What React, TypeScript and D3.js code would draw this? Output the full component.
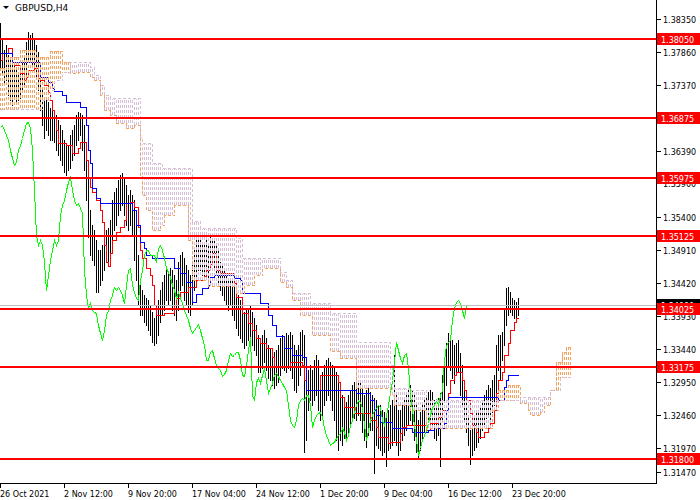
import React from "react";
import * as d3 from "d3";

// GBPUSD H4 bars, oldest first (one bar every 4 hours)
const closes = [
  1.3781, 1.3774, 1.3766, 1.3771, 1.3759, 1.3747, 1.3737, 1.3744, 1.3732, 1.3726,
  1.3737, 1.3751, 1.3759, 1.3777, 1.3792, 1.3796, 1.3789, 1.3781, 1.3774, 1.3751,
  1.3722, 1.3699, 1.3684, 1.3696, 1.3687, 1.3677, 1.3674, 1.3677, 1.367, 1.3662,
  1.3655, 1.364, 1.3628, 1.3617, 1.3622, 1.364, 1.3647, 1.3658, 1.367, 1.368,
  1.3681, 1.3673, 1.364, 1.358, 1.3513, 1.3498, 1.3506, 1.3498, 1.3473, 1.3431,
  1.3454, 1.3476, 1.3491, 1.3506, 1.3498, 1.3506, 1.3543, 1.3558, 1.3565, 1.358,
  1.3592, 1.36, 1.358, 1.3565, 1.3558, 1.3561, 1.3553, 1.3546, 1.3461, 1.3424,
  1.3406, 1.3412, 1.3402, 1.3399, 1.3397, 1.3379, 1.3367, 1.3357, 1.3372, 1.3394,
  1.3402, 1.3417, 1.3424, 1.3436, 1.3431, 1.3436, 1.3431, 1.3424, 1.3412, 1.3439,
  1.3461, 1.3464, 1.3439, 1.3429, 1.342, 1.3417, 1.3446, 1.3461, 1.3484, 1.3491,
  1.3491, 1.3484, 1.3484, 1.3484, 1.3473, 1.3494, 1.3498, 1.3491, 1.3479, 1.3464,
  1.3458, 1.3451, 1.3439, 1.3431, 1.342, 1.3429, 1.342, 1.3412, 1.3402, 1.3394,
  1.3387, 1.3375, 1.3367, 1.3372, 1.3376, 1.3381, 1.3372, 1.336, 1.335, 1.3327,
  1.3327, 1.3339, 1.3342, 1.333, 1.332, 1.3315, 1.3312, 1.3304, 1.3306, 1.3312,
  1.3327, 1.3338, 1.3333, 1.3335, 1.3339, 1.3339, 1.3327, 1.3305, 1.3304, 1.332,
  1.3342, 1.3362, 1.3275, 1.3268, 1.3295, 1.3301, 1.3293, 1.3305, 1.3315, 1.3298,
  1.3278, 1.3286, 1.3293, 1.3305, 1.3308, 1.3304, 1.3298, 1.3293, 1.3287, 1.3283,
  1.326, 1.3238, 1.3231, 1.3228, 1.3238, 1.326, 1.3268, 1.3271, 1.3268, 1.3275,
  1.3275, 1.326, 1.3228, 1.3238, 1.3245, 1.3248, 1.325, 1.3243, 1.3226, 1.3216,
  1.3208, 1.3201, 1.3204, 1.3205, 1.3211, 1.3216, 1.3219, 1.3226, 1.322, 1.3208,
  1.3216, 1.3231, 1.3238, 1.325, 1.326, 1.3268, 1.3265, 1.3256, 1.3231, 1.3208,
  1.3223, 1.3238, 1.3245, 1.3253, 1.3256, 1.326, 1.3257, 1.3238, 1.3231, 1.3245,
  1.326, 1.3278, 1.3298, 1.3324, 1.3354, 1.3342, 1.333, 1.3323, 1.3335, 1.3338,
  1.3315, 1.3275, 1.3253, 1.3231, 1.3208, 1.3186, 1.3196, 1.3208, 1.3216, 1.3223,
  1.3234, 1.3245, 1.3257, 1.326, 1.3268, 1.326, 1.3275, 1.3283, 1.3327, 1.335,
  1.3354, 1.3357, 1.3387, 1.3405, 1.3414, 1.3417, 1.3412, 1.3402, 1.339, 1.3409,
];

const highs = [
  1.3829, 1.3803, 1.3789, 1.3796, 1.3781, 1.3774, 1.3766, 1.3771, 1.3759, 1.3751,
  1.3762, 1.3774, 1.3781, 1.3801, 1.3815, 1.3811, 1.3814, 1.3806, 1.3796, 1.3786,
  1.3756, 1.3732, 1.3714, 1.3717, 1.3711, 1.3702, 1.3704, 1.3696, 1.3692, 1.3684,
  1.3677, 1.367, 1.3655, 1.3647, 1.3647, 1.3662, 1.367, 1.3677, 1.3692, 1.3696,
  1.3695, 1.3692, 1.3677, 1.3647, 1.36, 1.3551, 1.3528, 1.3521, 1.3506, 1.3491,
  1.3491, 1.3498, 1.3509, 1.3521, 1.3524, 1.3536, 1.3565, 1.3577, 1.3583, 1.3595,
  1.3603, 1.3606, 1.3598, 1.3588, 1.3573, 1.358, 1.3573, 1.3565, 1.3551, 1.3484,
  1.3439, 1.3431, 1.3424, 1.342, 1.3417, 1.3409, 1.3399, 1.339, 1.3402, 1.3417,
  1.3431, 1.3443, 1.3454, 1.3461, 1.3458, 1.3464, 1.3461, 1.3454, 1.3446, 1.3473,
  1.3484, 1.3488, 1.3479, 1.3469, 1.3461, 1.3454, 1.3473, 1.3491, 1.3506, 1.3509,
  1.3506, 1.3503, 1.3498, 1.3509, 1.3498, 1.3513, 1.3506, 1.3509, 1.3498, 1.3491,
  1.3473, 1.3469, 1.3461, 1.3454, 1.3446, 1.3449, 1.3446, 1.3439, 1.3431, 1.3424,
  1.3417, 1.3409, 1.3399, 1.3402, 1.3405, 1.3409, 1.3399, 1.339, 1.3379, 1.3365,
  1.3357, 1.3365, 1.3372, 1.336, 1.335, 1.3345, 1.3342, 1.3339, 1.3342, 1.335,
  1.336, 1.3365, 1.3362, 1.3367, 1.3365, 1.3369, 1.3365, 1.335, 1.3342, 1.335,
  1.3369, 1.3372, 1.3365, 1.3298, 1.3312, 1.332, 1.3312, 1.3327, 1.3335, 1.3327,
  1.3305, 1.3309, 1.332, 1.3327, 1.333, 1.3324, 1.332, 1.3315, 1.3309, 1.3305,
  1.329, 1.3275, 1.3268, 1.3265, 1.3275, 1.3283, 1.329, 1.3295, 1.329, 1.3298,
  1.3295, 1.329, 1.3275, 1.3283, 1.3286, 1.328, 1.3275, 1.3271, 1.3268, 1.326,
  1.326, 1.3253, 1.325, 1.3245, 1.3253, 1.326, 1.3268, 1.3335, 1.3275, 1.3253,
  1.3253, 1.326, 1.3268, 1.3275, 1.3283, 1.329, 1.3283, 1.3275, 1.326, 1.3238,
  1.325, 1.326, 1.3271, 1.3275, 1.328, 1.3283, 1.328, 1.3268, 1.326, 1.3271,
  1.3278, 1.3305, 1.3327, 1.3353, 1.3367, 1.336, 1.3357, 1.335, 1.3353, 1.3357,
  1.3338, 1.332, 1.3283, 1.3268, 1.3245, 1.3223, 1.3238, 1.3245, 1.325, 1.3253,
  1.3256, 1.3265, 1.3275, 1.3283, 1.329, 1.3286, 1.3298, 1.3305, 1.335, 1.3365,
  1.3365, 1.3369, 1.3405, 1.3434, 1.3436, 1.3429, 1.342, 1.3417, 1.3414, 1.342,
];

const lows = [
  1.3759, 1.3751, 1.3737, 1.3744, 1.3722, 1.3714, 1.3707, 1.3717, 1.3708, 1.3714,
  1.3717, 1.3726, 1.3737, 1.3751, 1.3771, 1.3774, 1.3765, 1.3759, 1.3747, 1.3729,
  1.3699, 1.3677, 1.3658, 1.367, 1.3662, 1.3655, 1.3655, 1.3652, 1.364, 1.3632,
  1.3625, 1.3617, 1.3607, 1.3603, 1.361, 1.3613, 1.3625, 1.3632, 1.3647, 1.3655,
  1.3662, 1.364, 1.361, 1.3565, 1.351, 1.3484, 1.3476, 1.3469, 1.3429, 1.3429,
  1.3439, 1.3446, 1.3461, 1.3473, 1.3473, 1.3484, 1.3498, 1.3521, 1.3528, 1.3543,
  1.3551, 1.3558, 1.3543, 1.3528, 1.3521, 1.3528, 1.3513, 1.3476, 1.3446, 1.3409,
  1.3394, 1.3394, 1.3384, 1.3379, 1.3372, 1.3365, 1.3354, 1.335, 1.3353, 1.3365,
  1.3384, 1.3394, 1.3402, 1.3417, 1.3409, 1.3417, 1.3402, 1.3394, 1.3387, 1.3402,
  1.3431, 1.3439, 1.3417, 1.3409, 1.3399, 1.3394, 1.3409, 1.3431, 1.3449, 1.3461,
  1.3461, 1.3454, 1.3454, 1.3458, 1.3446, 1.3461, 1.3469, 1.3464, 1.3454, 1.3439,
  1.3431, 1.3424, 1.3417, 1.3409, 1.3402, 1.3409, 1.3394, 1.3387, 1.3375, 1.3365,
  1.336, 1.3354, 1.3345, 1.335, 1.3357, 1.336, 1.335, 1.3342, 1.3335, 1.3309,
  1.3309, 1.3315, 1.3324, 1.3312, 1.3301, 1.3298, 1.329, 1.3286, 1.329, 1.3295,
  1.3305, 1.3315, 1.3312, 1.3309, 1.3315, 1.3312, 1.3301, 1.3283, 1.328, 1.329,
  1.3305, 1.3327, 1.319, 1.3208, 1.3253, 1.3268, 1.326, 1.3268, 1.3275, 1.3253,
  1.3238, 1.3245, 1.326, 1.3268, 1.3275, 1.3268, 1.3253, 1.3238, 1.3208, 1.3193,
  1.3208, 1.3201, 1.3211, 1.3208, 1.3216, 1.3231, 1.3238, 1.3241, 1.3238, 1.3245,
  1.3238, 1.322, 1.3208, 1.3198, 1.3216, 1.3223, 1.3223, 1.3159, 1.3201, 1.3196,
  1.3193, 1.3186, 1.319, 1.317, 1.3193, 1.3196, 1.3201, 1.3208, 1.3201, 1.3186,
  1.3193, 1.3208, 1.3216, 1.3223, 1.3231, 1.3238, 1.3231, 1.3208, 1.319, 1.3183,
  1.3193, 1.3208, 1.322, 1.3231, 1.3235, 1.3238, 1.3231, 1.3211, 1.3208, 1.3216,
  1.317, 1.3238, 1.3268, 1.329, 1.332, 1.3312, 1.3301, 1.3293, 1.3305, 1.3309,
  1.3275, 1.326, 1.3238, 1.322, 1.3201, 1.3173, 1.3186, 1.3193, 1.3198, 1.3205,
  1.3211, 1.3223, 1.3231, 1.3241, 1.3245, 1.3238, 1.325, 1.326, 1.3275, 1.3312,
  1.3298, 1.3327, 1.335, 1.3379, 1.3394, 1.3399, 1.3394, 1.339, 1.3384, 1.3394,
];

// Ichimoku lines: [bar index where the level starts, price]
const tenkanSteps: [number, number][] = [
  [0, 1.3774], [1, 1.3784], [4, 1.3792], [6, 1.3771], [7, 1.3766], [10, 1.3754],
  [12, 1.3744], [13, 1.3748], [14, 1.3759], [17, 1.3762], [19, 1.3747], [20, 1.3744],
  [22, 1.3737], [24, 1.3726], [25, 1.3714], [26, 1.3699], [27, 1.3687], [28, 1.367],
  [29, 1.365], [33, 1.3647], [36, 1.3635], [39, 1.3643], [40, 1.3652], [43, 1.3625],
  [44, 1.36], [45, 1.3585], [46, 1.3577], [48, 1.3565], [50, 1.3551], [51, 1.3533],
  [52, 1.3498], [53, 1.3473], [54, 1.3467], [55, 1.3486], [56, 1.3506], [58, 1.3518],
  [60, 1.3525], [62, 1.3536], [63, 1.3561], [65, 1.3562], [67, 1.3555], [69, 1.3525],
  [70, 1.3491], [71, 1.3479], [73, 1.3464], [75, 1.3454], [76, 1.3439], [77, 1.3409],
  [78, 1.3394], [82, 1.3397], [87, 1.3409], [88, 1.342], [90, 1.3429], [94, 1.3436],
  [98, 1.3446], [102, 1.3452], [103, 1.3461], [105, 1.347], [106, 1.3486], [108, 1.3461],
  [110, 1.3457], [117, 1.3442], [118, 1.3421], [121, 1.3397], [124, 1.3382], [126, 1.3372],
  [128, 1.336], [130, 1.3353], [133, 1.3345], [136, 1.3332], [137, 1.3318], [145, 1.3324],
  [151, 1.332], [152, 1.3298], [153, 1.3283], [160, 1.3305], [169, 1.3295], [170, 1.3272],
  [172, 1.3257], [177, 1.3248], [185, 1.3238], [188, 1.3228], [189, 1.3213], [194, 1.3204],
  [195, 1.3205], [200, 1.3219], [201, 1.3228], [203, 1.3231], [213, 1.3223], [215, 1.3234],
  [219, 1.3243], [221, 1.3253], [224, 1.3278], [225, 1.3298], [227, 1.3305], [228, 1.3309],
  [231, 1.3298], [232, 1.3283], [233, 1.3268], [235, 1.3248], [236, 1.3231], [238, 1.322],
  [239, 1.3213], [242, 1.322], [244, 1.3226], [245, 1.3234], [247, 1.3253], [248, 1.3278],
  [249, 1.3298], [251, 1.3309], [252, 1.3335], [254, 1.3353], [255, 1.3372], [257, 1.3384],
  [258, 1.339],
];

const kijunSteps: [number, number][] = [
  [0, 1.3784], [6, 1.3771], [20, 1.3748], [24, 1.3741], [26, 1.3732], [27, 1.3728],
  [31, 1.3722], [33, 1.3711], [40, 1.3704], [43, 1.3677], [44, 1.364], [45, 1.362],
  [46, 1.3583], [48, 1.3568], [50, 1.3561], [66, 1.3551], [68, 1.3528], [70, 1.3503],
  [72, 1.3494], [73, 1.3484], [76, 1.3479], [87, 1.3464], [90, 1.3457], [93, 1.3443],
  [96, 1.3414], [98, 1.3425], [101, 1.3434], [104, 1.3439], [105, 1.3451], [107, 1.3454],
  [117, 1.3449], [120, 1.3446], [121, 1.3427], [130, 1.3412], [134, 1.3394], [136, 1.3379],
  [138, 1.3363], [142, 1.3345], [146, 1.3335], [151, 1.3332], [153, 1.3283], [178, 1.3278],
  [185, 1.3268], [187, 1.3253], [188, 1.3245], [190, 1.3235], [196, 1.3226], [206, 1.322],
  [214, 1.3223], [217, 1.3226], [222, 1.3234], [223, 1.3253], [224, 1.3272], [249, 1.3268],
  [252, 1.3287], [253, 1.3298], [254, 1.3305],
];

const spanASteps: [number, number][] = [
  [0, 1.3762], [3, 1.3778], [10, 1.3789], [18, 1.3778], [25, 1.3787], [31, 1.3771],
  [35, 1.3754], [39, 1.3756], [45, 1.3748], [47, 1.3744], [50, 1.3722], [52, 1.3699],
  [55, 1.3692], [58, 1.368], [63, 1.3673], [67, 1.3677], [70, 1.3603], [71, 1.3573],
  [73, 1.3551], [76, 1.3521], [80, 1.3528], [82, 1.3543], [87, 1.3558], [94, 1.3506],
  [96, 1.3446], [104, 1.3437], [118, 1.3427], [122, 1.3439], [127, 1.3454], [131, 1.3464],
  [140, 1.3443], [143, 1.3436], [146, 1.3417], [150, 1.3394], [156, 1.3365], [165, 1.3341],
  [170, 1.333], [178, 1.3286], [195, 1.3275], [197, 1.326], [205, 1.3253], [213, 1.3226],
  [246, 1.3253], [249, 1.3283], [254, 1.329], [260, 1.3263], [264, 1.3253], [265, 1.3245],
  [270, 1.325], [272, 1.326], [275, 1.3283], [278, 1.3324], [281, 1.3339], [283, 1.3347],
];

const spanBSteps: [number, number][] = [
  [0, 1.3701], [21, 1.3714], [25, 1.3729], [27, 1.3744], [31, 1.3756], [35, 1.3771],
  [45, 1.3763], [47, 1.3751], [50, 1.3737], [52, 1.3722], [55, 1.3717], [70, 1.3659],
  [71, 1.365], [76, 1.362], [81, 1.3613], [96, 1.3534], [100, 1.3524], [118, 1.3509],
  [121, 1.3479], [140, 1.3458], [143, 1.3446], [146, 1.3427], [155, 1.3412], [165, 1.3397],
  [178, 1.3354], [195, 1.332], [197, 1.3286], [205, 1.3283], [213, 1.3268], [260, 1.3272],
  [275, 1.3283], [280, 1.3302],
];

const levelPrices = [1.3805, 1.36875, 1.35975, 1.35125, 1.34025, 1.33175, 1.318];
const priceTicks = [
  1.3835, 1.3786, 1.3737, 1.3688, 1.3639, 1.359, 1.354, 1.3491,
  1.3442, 1.3393, 1.3344, 1.3295, 1.3246, 1.3197, 1.3147,
];
const timeLabels = [
  "26 Oct 2021", "2 Nov 12:00", "9 Nov 20:00", "17 Nov 04:00", "24 Nov 12:00",
  "1 Dec 20:00", "9 Dec 04:00", "16 Dec 12:00", "23 Dec 20:00",
];
const timeLabelBars = [0, 32, 64, 96, 128, 160, 192, 224, 256];

const SHIFT = 26;
const PLOT_W = 656;
const PLOT_H = 483;
const FONT = "DejaVu Sans";

const fmt = (p: number) => p.toFixed(5);

export default function App() {
  const x = d3.scaleLinear().domain([0, 328]).range([0, PLOT_W]);
  const y = d3.scaleLinear().domain([1.3863, 1.314425]).range([0, PLOT_H]);
  const px = (i: number) => Math.round(x(i)) + 0.5;
  const py = (p: number) => Math.round(y(p)) + 0.5;

  const last = closes.length - 1;
  const cloudEnd = last + SHIFT;

  const stepPath = (steps: [number, number][], endBar: number) => {
    const pts: [number, number][] = [...steps, [endBar, steps[steps.length - 1][1]]];
    return (
      d3
        .line<[number, number]>()
        .x((d) => px(d[0]))
        .y((d) => py(d[1]))
        .curve(d3.curveStepAfter)(pts) || ""
    );
  };

  const valueAt = (steps: [number, number][], i: number) => {
    const k = d3.bisector((d: [number, number]) => d[0]).right(steps, i) - 1;
    return steps[Math.max(0, k)][1];
  };

  const cloudBars = d3.range(0, cloudEnd + 1).map((i) => {
    const a = valueAt(spanASteps, i);
    const b = valueAt(spanBSteps, i);
    return { i, a, b };
  });

  const chikou =
    d3
      .line<number>()
      .x((_, k) => px(k))
      .y((d) => py(d))(closes.slice(SHIFT)) || "";

  const bid = closes[last];

  // a tick label that sits fully under a level label is not drawn (as in the terminal)
  const hiddenTick = (p: number) =>
    levelPrices.some((l) => Math.abs(y(l) - y(p)) < 2);

  return (
    <svg
      width={700}
      height={500}
      style={{ position: "fixed", left: 0, top: 0, background: "#fff" }}
      fontFamily={FONT}
    >
      <rect x={0} y={0} width={700} height={500} fill="#ffffff" />
      <defs>
        <clipPath id="plot">
          <rect x={0} y={0} width={PLOT_W} height={PLOT_H} />
        </clipPath>
      </defs>

      <g clipPath="url(#plot)" shapeRendering="crispEdges">
        {/* price bars */}
        {closes.map((_, i) => {
          const top = Math.round(y(highs[i]));
          const bot = Math.round(y(lows[i]));
          return (
            <rect
              key={"b" + i}
              x={Math.round(x(i))}
              y={top}
              width={1}
              height={Math.max(1, bot - top + 1)}
              fill="#000000"
            />
          );
        })}

        {/* tenkan / kijun */}
        <path d={stepPath(tenkanSteps, last)} fill="none" stroke="#ff0000" strokeWidth={1} />
        <path d={stepPath(kijunSteps, last)} fill="none" stroke="#0000ff" strokeWidth={1} />

        {/* kumo hatch */}
        {cloudBars.map(({ i, a, b }) => (
          <line
            key={"k" + i}
            x1={px(i)}
            x2={px(i)}
            y1={Math.round(y(a))}
            y2={Math.round(y(b)) + 1}
            stroke={a >= b ? "#f4a460" : "#d8bfd8"}
            strokeWidth={1}
            strokeDasharray="3 2"
          />
        ))}

        {/* chikou */}
        <path d={chikou} fill="none" stroke="#00ff00" strokeWidth={1} />

        {/* senkou spans */}
        <path
          d={stepPath(spanASteps, cloudEnd)}
          fill="none"
          stroke="#f4a460"
          strokeWidth={1}
          strokeDasharray="3 2"
        />
        <path
          d={stepPath(spanBSteps, cloudEnd)}
          fill="none"
          stroke="#d8bfd8"
          strokeWidth={1}
          strokeDasharray="3 2"
        />

        {/* bid line */}
        <line x1={0} x2={PLOT_W} y1={py(bid)} y2={py(bid)} stroke="#c0c0c0" strokeWidth={1} />

        {/* horizontal levels */}
        {levelPrices.map((p) => (
          <line
            key={"l" + p}
            x1={0}
            x2={PLOT_W}
            y1={Math.round(y(p))}
            y2={Math.round(y(p))}
            stroke="#ff0000"
            strokeWidth={2}
          />
        ))}
      </g>

      {/* frame */}
      <g shapeRendering="crispEdges">
        <line x1={PLOT_W + 0.5} x2={PLOT_W + 0.5} y1={0} y2={PLOT_H + 1} stroke="#000" />
        <line x1={0} x2={PLOT_W + 1} y1={PLOT_H + 0.5} y2={PLOT_H + 0.5} stroke="#000" />
      </g>

      {/* price axis */}
      {priceTicks.map((p) => {
        const ty = Math.min(Math.round(y(p)), 472);
        return (
          <g key={"t" + p}>
            <line x1={PLOT_W + 1} x2={PLOT_W + 5} y1={ty + 0.5} y2={ty + 0.5} stroke="#000" shapeRendering="crispEdges" />
            {!hiddenTick(p) && (
              <text x={663} y={ty + 3.5} fontSize={8} fill="#000">
                {fmt(p)}
              </text>
            )}
          </g>
        );
      })}

      {/* bid label */}
      <rect x={657} y={Math.round(y(bid)) - 6} width={43} height={12} fill="#000" />
      <text x={661} y={Math.round(y(bid)) + 3.5} fontSize={8} fill="#fff">
        {fmt(bid)}
      </text>

      {/* level labels */}
      {levelPrices.map((p) => {
        const ly = Math.round(y(p));
        return (
          <g key={"ll" + p}>
            <rect x={657} y={ly - 6} width={43} height={12} fill="#ff0000" />
            <text x={661} y={ly + 3.5} fontSize={8} fill="#fff">
              {fmt(p)}
            </text>
          </g>
        );
      })}

      {/* time axis */}
      {timeLabelBars.map((b, k) => (
        <g key={"x" + b}>
          <line x1={px(b)} x2={px(b)} y1={PLOT_H + 1} y2={PLOT_H + 5} stroke="#000" shapeRendering="crispEdges" />
          <text x={px(b) - 0.5} y={497} fontSize={8} fill="#000">
            {timeLabels[k]}
          </text>
        </g>
      ))}

      {/* title */}
      <path d="M3,6 L9,6 L6,9 Z" fill="#000" />
      <text x={15} y={11} fontSize={9} fill="#000">
        GBPUSD,H4
      </text>
    </svg>
  );
}
